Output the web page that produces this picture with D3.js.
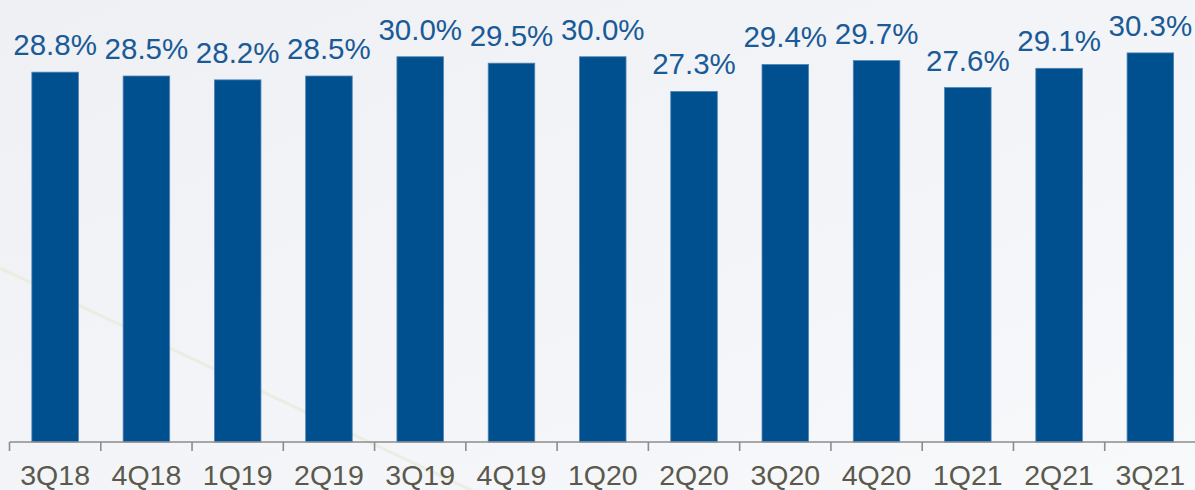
<!DOCTYPE html>
<html>
<head>
<meta charset="utf-8">
<script src="https://cdn.jsdelivr.net/npm/d3@7"></script>
<style>
  html, body { margin: 0; padding: 0; }
  body { width: 1195px; height: 490px; overflow: hidden; background: #f4f5f7; }
  svg { display: block; font-family: "Liberation Sans", Arial, sans-serif; }
</style>
</head>
<body>
<div id="chart"></div>
<script>
var quarters = ["3Q18", "4Q18", "1Q19", "2Q19", "3Q19", "4Q19", "1Q20", "2Q20", "3Q20", "4Q20", "1Q21", "2Q21", "3Q21"];
var values = [28.8, 28.5, 28.2, 28.5, 30.0, 29.5, 30.0, 27.3, 29.4, 29.7, 27.6, 29.1, 30.3];

var width = 1195, height = 490;
var baseY = 442;

var svg = d3.select("#chart")
    .append("svg")
        .attr("width", width)
        .attr("height", height);

// soft background
var defs = svg.append("defs");
var grad = defs.append("linearGradient")
    .attr("id", "bg")
    .attr("x1", "0").attr("y1", "0").attr("x2", "1").attr("y2", "1");
grad.append("stop").attr("offset", "0%").attr("stop-color", "#eef0f3");
grad.append("stop").attr("offset", "60%").attr("stop-color", "#f4f5f8");
grad.append("stop").attr("offset", "100%").attr("stop-color", "#f8f9fb");

svg.append("rect")
    .attr("width", width)
    .attr("height", height)
    .attr("fill", "url(#bg)");

// faint diagonal streak in the backdrop
svg.append("line")
    .attr("x1", 0).attr("y1", 268)
    .attr("x2", 475).attr("y2", 492)
    .attr("stroke", "#e9ebdc")
    .attr("stroke-width", 3)
    .attr("opacity", 0.7);

var x = d3.scaleBand()
    .domain(quarters)
    .range([9.5, 1196])
    .paddingInner(0.49)
    .paddingOuter(0.245);

var y = d3.scaleLinear()
    .domain([0, 34.42])
    .range([baseY, 0]);

svg.selectAll("rect.bar")
    .data(values)
    .enter()
    .append("rect")
        .attr("class", "bar")
        .attr("x", function(d, i) { return x(quarters[i]); })
        .attr("y", function(d) { return y(d); })
        .attr("width", x.bandwidth())
        .attr("height", function(d) { return baseY - y(d); })
        .attr("fill", "#00508f")
        .attr("stroke", "#4f84b5")
        .attr("stroke-width", 0.8);

svg.selectAll("text.val")
    .data(values)
    .enter()
    .append("text")
        .attr("class", "val")
        .attr("x", function(d, i) { return x(quarters[i]) + x.bandwidth() / 2; })
        .attr("y", function(d) { return y(d) - 17; })
        .attr("text-anchor", "middle")
        .attr("font-size", "29.5px")
        .attr("fill", "#1a5a97")
        .text(function(d) { return d.toFixed(1) + "%"; });

// x axis with ticks on band edges
var axisScale = d3.scaleLinear().domain([0, quarters.length]).range([9.5, 1196]);
var ax = svg.append("g").attr("transform", "translate(0," + baseY + ")");

ax.append("line")
    .attr("x1", axisScale(0)).attr("x2", axisScale(quarters.length))
    .attr("stroke", "#8c8c8c")
    .attr("stroke-width", 1.6);

ax.selectAll("line.tick")
    .data(d3.range(quarters.length + 1))
    .enter()
    .append("line")
        .attr("class", "tick")
        .attr("x1", function(d) { return axisScale(d); })
        .attr("x2", function(d) { return axisScale(d); })
        .attr("y1", 0)
        .attr("y2", 9)
        .attr("stroke", "#8c8c8c")
        .attr("stroke-width", 1.6);

ax.selectAll("text")
    .data(quarters)
    .enter()
    .append("text")
        .attr("x", function(d) { return x(d) + x.bandwidth() / 2; })
        .attr("y", 43)
        .attr("text-anchor", "middle")
        .attr("font-size", "28.5px")
        .attr("fill", "#5a594c")
        .text(function(d) { return d; });
</script>
</body>
</html>
